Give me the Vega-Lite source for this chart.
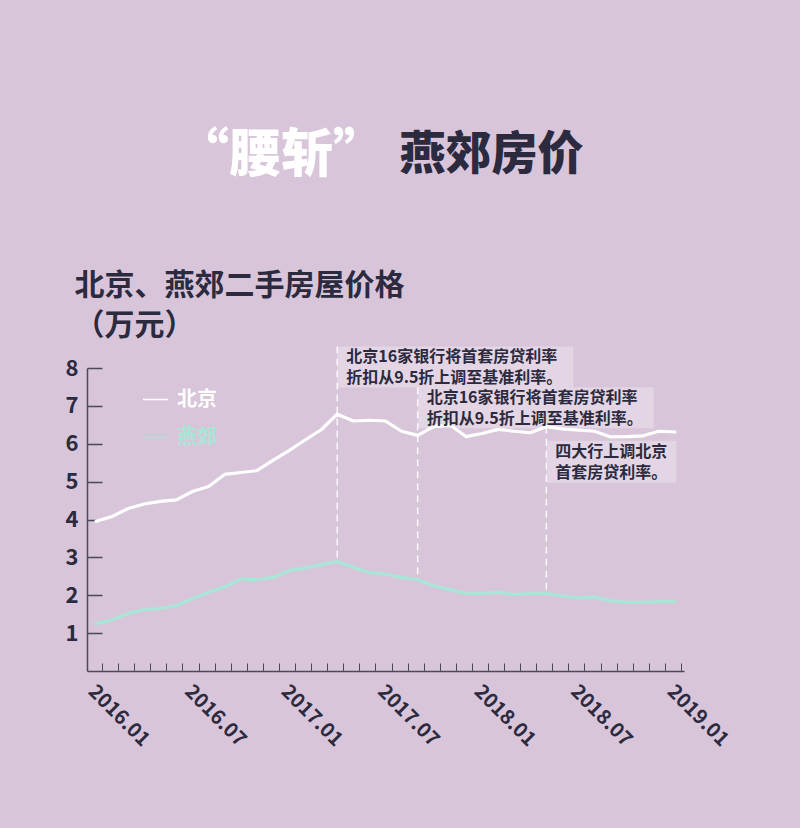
{
  "$schema": "https://vega.github.io/schema/vega-lite/v6.json",
  "width": 597,
  "height": 303,
  "autosize": "none",
  "padding": {"left": 87, "top": 368, "right": 116, "bottom": 157},
  "background": "#d8c5d9",
  "config": {
    "view": {"stroke": null},
    "font": "Noto Sans CJK SC"
  },
  "title": {
    "text": "“腰斩”",
    "anchor": "start",
    "frame": "group",
    "dx": 90,
    "offset": -52,
    "font": "Noto Sans CJK SC",
    "fontSize": 52,
    "fontWeight": 900,
    "color": "#ffffff"
  },
  "datasets": {
    "prices": [
      {"month": "2016.01", "city": "北京", "price": 3.95},
      {"month": "2016.02", "city": "北京", "price": 4.08},
      {"month": "2016.03", "city": "北京", "price": 4.29},
      {"month": "2016.04", "city": "北京", "price": 4.41},
      {"month": "2016.05", "city": "北京", "price": 4.48},
      {"month": "2016.06", "city": "北京", "price": 4.52},
      {"month": "2016.07", "city": "北京", "price": 4.74},
      {"month": "2016.08", "city": "北京", "price": 4.87},
      {"month": "2016.09", "city": "北京", "price": 5.19},
      {"month": "2016.10", "city": "北京", "price": 5.24},
      {"month": "2016.11", "city": "北京", "price": 5.29},
      {"month": "2016.12", "city": "北京", "price": 5.56},
      {"month": "2017.01", "city": "北京", "price": 5.82},
      {"month": "2017.02", "city": "北京", "price": 6.10},
      {"month": "2017.03", "city": "北京", "price": 6.37},
      {"month": "2017.04", "city": "北京", "price": 6.78},
      {"month": "2017.05", "city": "北京", "price": 6.60},
      {"month": "2017.06", "city": "北京", "price": 6.62},
      {"month": "2017.07", "city": "北京", "price": 6.60},
      {"month": "2017.08", "city": "北京", "price": 6.33},
      {"month": "2017.09", "city": "北京", "price": 6.22},
      {"month": "2017.10", "city": "北京", "price": 6.45},
      {"month": "2017.11", "city": "北京", "price": 6.50},
      {"month": "2017.12", "city": "北京", "price": 6.19},
      {"month": "2018.01", "city": "北京", "price": 6.27},
      {"month": "2018.02", "city": "北京", "price": 6.38},
      {"month": "2018.03", "city": "北京", "price": 6.33},
      {"month": "2018.04", "city": "北京", "price": 6.29},
      {"month": "2018.05", "city": "北京", "price": 6.45},
      {"month": "2018.06", "city": "北京", "price": 6.39},
      {"month": "2018.07", "city": "北京", "price": 6.36},
      {"month": "2018.08", "city": "北京", "price": 6.33},
      {"month": "2018.09", "city": "北京", "price": 6.18},
      {"month": "2018.10", "city": "北京", "price": 6.19},
      {"month": "2018.11", "city": "北京", "price": 6.21},
      {"month": "2018.12", "city": "北京", "price": 6.33},
      {"month": "2019.01", "city": "北京", "price": 6.31},
      {"month": "2016.01", "city": "燕郊", "price": 1.25},
      {"month": "2016.02", "city": "燕郊", "price": 1.35},
      {"month": "2016.03", "city": "燕郊", "price": 1.52},
      {"month": "2016.04", "city": "燕郊", "price": 1.62},
      {"month": "2016.05", "city": "燕郊", "price": 1.65},
      {"month": "2016.06", "city": "燕郊", "price": 1.73},
      {"month": "2016.07", "city": "燕郊", "price": 1.91},
      {"month": "2016.08", "city": "燕郊", "price": 2.08},
      {"month": "2016.09", "city": "燕郊", "price": 2.22},
      {"month": "2016.10", "city": "燕郊", "price": 2.43},
      {"month": "2016.11", "city": "燕郊", "price": 2.41},
      {"month": "2016.12", "city": "燕郊", "price": 2.47},
      {"month": "2017.01", "city": "燕郊", "price": 2.65},
      {"month": "2017.02", "city": "燕郊", "price": 2.72},
      {"month": "2017.03", "city": "燕郊", "price": 2.81},
      {"month": "2017.04", "city": "燕郊", "price": 2.89},
      {"month": "2017.05", "city": "燕郊", "price": 2.74},
      {"month": "2017.06", "city": "燕郊", "price": 2.60},
      {"month": "2017.07", "city": "燕郊", "price": 2.56},
      {"month": "2017.08", "city": "燕郊", "price": 2.47},
      {"month": "2017.09", "city": "燕郊", "price": 2.41},
      {"month": "2017.10", "city": "燕郊", "price": 2.25},
      {"month": "2017.11", "city": "燕郊", "price": 2.15},
      {"month": "2017.12", "city": "燕郊", "price": 2.05},
      {"month": "2018.01", "city": "燕郊", "price": 2.05},
      {"month": "2018.02", "city": "燕郊", "price": 2.08},
      {"month": "2018.03", "city": "燕郊", "price": 2.02},
      {"month": "2018.04", "city": "燕郊", "price": 2.05},
      {"month": "2018.05", "city": "燕郊", "price": 2.05},
      {"month": "2018.06", "city": "燕郊", "price": 1.98},
      {"month": "2018.07", "city": "燕郊", "price": 1.93},
      {"month": "2018.08", "city": "燕郊", "price": 1.95},
      {"month": "2018.09", "city": "燕郊", "price": 1.85},
      {"month": "2018.10", "city": "燕郊", "price": 1.82},
      {"month": "2018.11", "city": "燕郊", "price": 1.81},
      {"month": "2018.12", "city": "燕郊", "price": 1.83},
      {"month": "2019.01", "city": "燕郊", "price": 1.83}
    ],
    "events": [
      {"month": "2017.04", "ruleTop": 8.57, "ruleBottom": 2.89, "boxTop": 8.57, "size": "long", "note": "北京16家银行将首套房贷利率\n折扣从9.5折上调至基准利率。"},
      {"month": "2017.09", "ruleTop": 7.49, "ruleBottom": 2.41, "boxTop": 7.49, "size": "long", "note": "北京16家银行将首套房贷利率\n折扣从9.5折上调至基准利率。"},
      {"month": "2018.05", "ruleTop": 6.45, "ruleBottom": 2.05, "boxTop": 6.08, "size": "short", "note": "四大行上调北京\n首套房贷利率。"}
    ]
  },
  "encoding": {
    "x": {
      "field": "month",
      "type": "ordinal",
      "scale": {"type": "point", "padding": 0.56},
      "axis": {
        "title": "燕郊房价",
        "titleFont": "Noto Sans CJK SC",
        "titleFontSize": 46,
        "titleFontWeight": 900,
        "titleColor": "#2b2a3e",
        "titleAngle": 0,
        "titleAlign": "left",
        "titleBaseline": "alphabetic",
        "titleX": 312,
        "titleY": -503,
        "labelExpr": "(slice(datum.label, -3) == '.01' || slice(datum.label, -3) == '.07') ? datum.label : ''",
        "labelAngle": 45,
        "labelAlign": "left",
        "labelBaseline": "top",
        "labelFontSize": 20,
        "labelFontWeight": "bold",
        "labelColor": "#2b2a3e",
        "labelPadding": 18,
        "labelOffset": -4,
        "labelOverlap": false,
        "tickSize": -8,
        "tickOffset": 6,
        "tickColor": "#4b4a5c",
        "tickWidth": 1,
        "domainColor": "#4b4a5c",
        "domainWidth": 1.5,
        "grid": false
      }
    }
  },
  "layer": [
    {
      "data": {"name": "events"},
      "transform": [{"filter": "datum.size == 'long'"}],
      "mark": {"type": "rect", "fill": "#ffffff", "opacity": 0.28, "clip": false, "x2Offset": 236, "y2Offset": 41},
      "encoding": {
        "y": {"field": "boxTop", "type": "quantitative"},
        "x2": {"field": "month"},
        "y2": {"field": "boxTop"}
      }
    },
    {
      "data": {"name": "events"},
      "transform": [{"filter": "datum.size == 'short'"}],
      "mark": {"type": "rect", "fill": "#ffffff", "opacity": 0.28, "clip": false, "x2Offset": 130, "y2Offset": 42},
      "encoding": {
        "y": {"field": "boxTop", "type": "quantitative"},
        "x2": {"field": "month"},
        "y2": {"field": "boxTop"}
      }
    },
    {
      "data": {"name": "events"},
      "mark": {"type": "rule", "stroke": "#ffffff", "strokeWidth": 1.5, "strokeDash": [7, 5], "opacity": 0.85, "clip": false},
      "encoding": {
        "y": {"field": "ruleTop", "type": "quantitative"},
        "y2": {"field": "ruleBottom"}
      }
    },
    {
      "data": {"name": "prices"},
      "mark": {"type": "line", "strokeWidth": 3.2, "strokeJoin": "round", "strokeCap": "round"},
      "encoding": {
        "y": {
          "field": "price",
          "type": "quantitative",
          "scale": {"domain": [1, 8]},
          "axis": {
            "title": ["北京、燕郊二手房屋价格", "（万元）"],
            "titleAngle": 0,
            "titleAlign": "left",
            "titleBaseline": "top",
            "titleX": -13,
            "titleY": -98,
            "titleFontSize": 30,
            "titleFontWeight": "bold",
            "titleColor": "#2b2a3e",
            "titleLineHeight": 40,
            "values": [1, 2, 3, 4, 5, 6, 7, 8],
            "labelFontSize": 22,
            "labelFontWeight": "bold",
            "labelColor": "#2b2a3e",
            "labelPadding": 24,
            "tickSize": -15,
            "tickColor": "#4b4a5c",
            "tickWidth": 1.5,
            "domainColor": "#4b4a5c",
            "domainWidth": 1.5,
            "grid": false
          }
        },
        "color": {
          "field": "city",
          "type": "nominal",
          "scale": {"domain": ["北京", "燕郊"], "range": ["#ffffff", "#a8e6d6"]},
          "legend": {
            "title": null,
            "orient": "none",
            "legendX": 55,
            "legendY": 18,
            "symbolType": "stroke",
            "symbolSize": 625,
            "symbolStrokeWidth": 1.5,
            "labelFontSize": 20,
            "labelFontWeight": "bold",
            "labelOffset": 8,
            "rowPadding": 14,
            "encode": {
              "labels": {"update": {"fill": {"signal": "datum.value === '北京' ? '#ffffff' : '#a8e6d6'"}}}
            }
          }
        }
      }
    },
    {
      "data": {"name": "events"},
      "mark": {"type": "text", "align": "left", "baseline": "top", "dx": 9, "dy": 3, "fontSize": 16, "fontWeight": "bold", "lineHeight": 21, "lineBreak": "\n", "fill": "#2b2a3e", "clip": false},
      "encoding": {
        "y": {"field": "boxTop", "type": "quantitative"},
        "text": {"field": "note"}
      }
    }
  ]
}
